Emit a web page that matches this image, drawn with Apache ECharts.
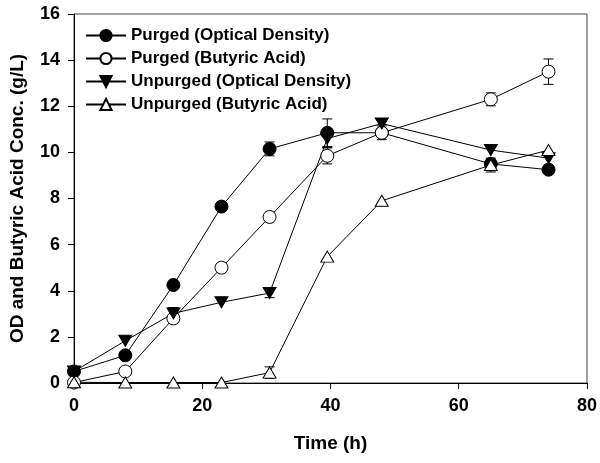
<!DOCTYPE html>
<html>
<head>
<meta charset="utf-8">
<script src="https://cdn.jsdelivr.net/npm/echarts@6/dist/echarts.min.js"></script>
<style>html,body{margin:0;padding:0;background:#fff}#c{width:600px;height:463px}</style>
</head>
<body>
<div id="c"></div>
<script>
var time = [0, 8, 15.5, 23, 30.5, 39.5, 48, 65, 74];
var purgedOD = [0.5, 1.2, 4.25, 7.65, 10.15, 10.85, 10.85, 9.5, 9.25];
var purgedODErr = [0, 0, 0, 0, 0.3, 0.6, 0, 0, 0];
var purgedBA = [0.02, 0.5, 2.8, 5.0, 7.2, 9.85, 10.85, 12.3, 13.5];
var purgedBAErr = [0, 0, 0.1, 0, 0, 0.35, 0.3, 0.28, 0.55];
var unpurgedOD = [0.5, 1.83, 3.02, 3.5, 3.9, 10.6, 11.25, 10.1, 9.75];
var unpurgedODErr = [0, 0, 0.25, 0, 0.2, 0.4, 0, 0, 0];
var unpurgedBA = [0.03, 0.02, 0.02, 0.02, 0.45, 5.48, 7.9, 9.45, 10.1];
var unpurgedBAErr = [0, 0, 0, 0, 0.25, 0, 0, 0.3, 0];
var seriesNames = ['Purged (Optical Density)', 'Purged (Butyric Acid)', 'Unpurged (Optical Density)', 'Unpurged (Butyric Acid)'];
var xTicks = [0, 20, 40, 60, 80];
var yTicks = [0, 2, 4, 6, 8, 10, 12, 14, 16];

var font = 'Liberation Sans, Arial, sans-serif';
function pairs(v) { return time.map(function (t, i) { return [t, v[i]]; }); }
function errData(v, e) {
  var out = [];
  time.forEach(function (t, i) { if (e[i] > 0) out.push([t, v[i] - e[i], v[i] + e[i]]); });
  return out;
}
function errSeries(v, e) {
  return {
    type: 'custom', z: 1, silent: true,
    data: errData(v, e),
    renderItem: function (params, api) {
      var x = api.value(0);
      var lo = api.coord([x, api.value(1)]);
      var hi = api.coord([x, api.value(2)]);
      var w = 5;
      var st = { stroke: '#000', lineWidth: 1 };
      return { type: 'group', children: [
        { type: 'line', shape: { x1: lo[0], y1: lo[1], x2: hi[0], y2: hi[1] }, style: st },
        { type: 'line', shape: { x1: lo[0] - w, y1: lo[1], x2: lo[0] + w, y2: lo[1] }, style: st },
        { type: 'line', shape: { x1: hi[0] - w, y1: hi[1], x2: hi[0] + w, y2: hi[1] }, style: st }
      ]};
    }
  };
}
function lineSeries(name, v, symbol, filled, rotate, size) {
  return {
    name: name, type: 'line', data: pairs(v), z: 3,
    symbol: symbol, symbolSize: size, symbolRotate: rotate, showAllSymbol: true,
    lineStyle: { color: '#000', width: 1 },
    itemStyle: { color: filled ? '#000' : '#fff', borderColor: '#000', borderWidth: 1, opacity: 1 },
    emphasis: { disabled: true },
    animation: false
  };
}

var chart = echarts.init(document.getElementById('c'), null, { renderer: 'canvas' });
chart.setOption({
  animation: false,
  backgroundColor: '#fff',
  grid: { left: 74, right: 13, top: 14, bottom: 80, show: true, borderColor: '#444', borderWidth: 1 },
  legend: {
    left: 80, top: 22, orient: 'vertical', itemWidth: 40, itemHeight: 14, itemGap: 6,
    textStyle: { fontFamily: font, fontWeight: 'bold', fontSize: 17, color: '#000' },
    data: seriesNames
  },
  xAxis: {
    type: 'value', min: xTicks[0], max: xTicks[xTicks.length - 1], interval: 20,
    name: 'Time (h)', nameLocation: 'middle', nameGap: 51,
    nameTextStyle: { fontFamily: font, fontWeight: 'bold', fontSize: 19, color: '#000' },
    axisLine: { onZero: false, lineStyle: { color: '#000', width: 1 } },
    axisTick: { show: true, inside: false, length: 6, lineStyle: { color: '#000' } },
    axisLabel: { margin: 14, fontFamily: font, fontWeight: 'bold', fontSize: 18, color: '#000' },
    splitLine: { show: false }
  },
  yAxis: {
    type: 'value', min: yTicks[0], max: yTicks[yTicks.length - 1], interval: 2,
    name: 'OD and Butyric Acid Conc. (g/L)', nameLocation: 'middle', nameGap: 47,
    nameTextStyle: { fontFamily: font, fontWeight: 'bold', fontSize: 19, color: '#000' },
    axisLine: { onZero: false, lineStyle: { color: '#000', width: 1 } },
    axisTick: { show: true, inside: false, length: 6, lineStyle: { color: '#000' } },
    axisLabel: { margin: 14, fontFamily: font, fontWeight: 'bold', fontSize: 18, color: '#000' },
    splitLine: { show: false }
  },
  series: [
    lineSeries(seriesNames[0], purgedOD, 'circle', true, 0, 13),
    lineSeries(seriesNames[1], purgedBA, 'circle', false, 0, 13),
    lineSeries(seriesNames[2], unpurgedOD, 'triangle', true, 180, [13, 11]),
    lineSeries(seriesNames[3], unpurgedBA, 'triangle', false, 0, [13, 11]),
    errSeries(purgedOD, purgedODErr),
    errSeries(purgedBA, purgedBAErr),
    errSeries(unpurgedOD, unpurgedODErr),
    errSeries(unpurgedBA, unpurgedBAErr)
  ]
});
</script>
</body>
</html>
